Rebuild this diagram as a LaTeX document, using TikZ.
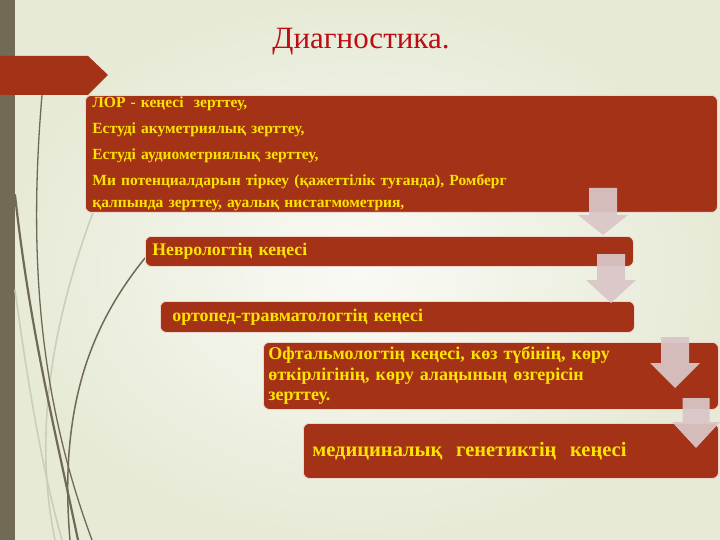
\documentclass[tikz,border=0pt]{standalone}
\usepackage{fontspec}
\setmainfont{Liberation Serif}
\usetikzlibrary{positioning}

\definecolor{boxred}{RGB}{163,50,22}
\definecolor{txtyellow}{RGB}{255,228,0}
\definecolor{arrowgray}{RGB}{218,198,200}
\definecolor{barolive}{RGB}{113,107,85}
\definecolor{stemdark}{RGB}{112,106,84}
\definecolor{stemlight}{RGB}{202,206,186}
\definecolor{titlered}{RGB}{190,12,20}
\definecolor{bgouter}{RGB}{230,234,214}
\definecolor{bginner}{RGB}{250,250,245}

% block arrow: centre x, top y, neck y, tip y, shaft half width, head half width
\newcommand{\downblock}[6]{%
  \fill[downarrow] (#1-#5,#2) -- (#1+#5,#2) -- (#1+#5,#3) -- (#1+#6,#3)
    -- (#1,#4) -- (#1-#6,#3) -- (#1-#5,#3) -- cycle;}

\begin{document}
\begin{tikzpicture}[
        x=1pt, y=-1pt,
        stepbox/.style={fill=boxred, draw=white!80!boxred, line width=0.8pt,
          rounded corners=6pt, text=txtyellow, anchor=north west,
          align=left, inner ysep=0pt},
        downarrow/.style={fill=arrowgray, fill opacity=0.93},
        stem/.style={draw=stemdark, line cap=round},
        stemfaint/.style={draw=stemlight, line width=1.6pt, line cap=round}
        ]
        \useasboundingbox (0,0) rectangle (720,540);

        % Background
        \shade[inner color=bginner, outer color=bgouter] (0,0) rectangle (720,540);
        \fill[barolive] (0,0) rectangle (15,540);

        % Stems
        \draw[stemfaint] (95,207) .. controls (60,300) and (30,420) .. (55,540);
        \draw[stemfaint] (15,290) .. controls (30,400) and (45,480) .. (62,540);
        \draw[stem, line width=1.3pt] (42,95) .. controls (28,260) and (40,400) .. (92,540);
        \draw[stem, line width=2.2pt] (15,195) .. controls (30,330) and (55,430) .. (78,540);
        \draw[stem, line width=1.5pt] (145,258) .. controls (95,320) and (58,400) .. (70,540);

        % Banner
        \fill[boxred] (0,56) -- (88,56) -- (108,75) -- (88,95) -- (0,95) -- cycle;

        % Title
        \node[font=\fontsize{31}{34}\selectfont, text=titlered] (title) at (361,42) {Диагностика.};

        % Boxes
        \node[stepbox, minimum width=632, minimum height=117, text width=618, inner xsep=7,
          font=\fontsize{15.5}{22}\selectfont\bfseries] (lor) at (85,95)
          {ЛОР - кеңесі\ \ зерттеу,\\[4pt]
           Естуді акуметриялық зерттеу,\\[4pt]
           Естуді аудиометриялық зерттеу,\\[4pt]
           Ми потенциалдарын тіркеу (қажеттілік туғанда), Ромберг\\
           қалпында зерттеу, ауалық нистагмометрия,};
        \node[stepbox, minimum width=488, minimum height=30, text width=474, inner xsep=7,
          font=\fontsize{17.7}{20}\selectfont\bfseries] (nevro) at (145,236)
          {Неврологтің кеңесі};
        \node[stepbox, minimum width=474, minimum height=31, text width=450, inner xsep=12,
          font=\fontsize{17.9}{20}\selectfont\bfseries] (ortoped) at (160,301)
          {ортопед-травматологтің кеңесі};
        \node[stepbox, minimum width=455, minimum height=67, text width=445, inner xsep=5,
          font=\fontsize{18}{20.5}\selectfont\bfseries] (oftalm) at (263,342)
          {Офтальмологтің кеңесі, көз түбінің, көру\\
           өткірлігінің, көру алаңының өзгерісін\\
           зерттеу.};
        \node[stepbox, minimum width=415, minimum height=55, text width=397, inner xsep=9,
          font=\fontsize{20.5}{23}\selectfont\bfseries] (genetik) at (303,423)
          {медициналық\ \ генетиктің\ \ кеңесі};

        % Arrows
        \downblock{603}{188}{215}{235}{14}{25}
        \downblock{611}{254}{280}{303}{14}{25}
        \downblock{675}{337}{363}{388}{14}{25}
        \downblock{696}{398}{422}{448}{13.5}{24}
\end{tikzpicture}
\end{document}
